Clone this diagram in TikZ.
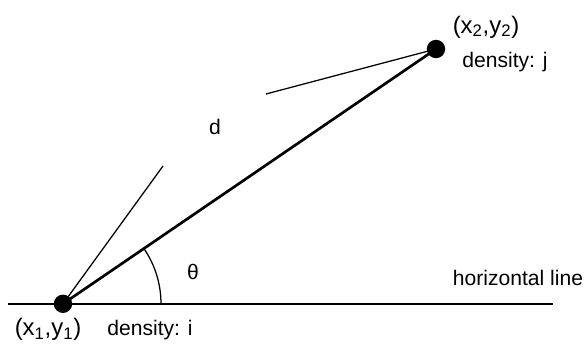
\documentclass[tikz,border=0pt]{standalone}
\usepackage{fontspec}
\setmainfont{Liberation Sans}
\usetikzlibrary{angles, calc}

\begin{document}
\begin{tikzpicture}[
        dot/.style={circle, fill=black, inner sep=0pt, minimum size=0.46cm},
        lbl/.style={font=\fontsize{15}{18}\selectfont},
        pt/.style={font=\fontsize{17}{20}\selectfont}
    ]
                \useasboundingbox (0,0) rectangle (14.625,8.675);

                % Points and horizontal line
                \coordinate (c1) at (1.575,1.08);
                \coordinate (c2) at (10.9,7.45);
                \coordinate (hl) at (0.2,1.075);
                \coordinate (hr) at (13.825,1.075);
                \draw[line width=2pt] (hl) -- (hr);
                \node[dot] (p1) at (c1) {};
                \node[dot] (p2) at (c2) {};

                % Distance line between the two points
                \draw[line width=1.9pt] (c1) -- (c2);

                % Thin lines from each point
                \coordinate (t1) at (4.075,4.525);
                \coordinate (t2) at (6.65,6.325);
                \draw[line width=0.9pt] (c1) -- (t1);
                \draw[line width=0.9pt] (c2) -- (t2);

                % Angle
                \pic[draw, line width=0.9pt, angle radius=2.45cm] {angle = hr--c1--c2};
                \node[lbl] (theta) at (4.825,1.875) {θ};
                \node[lbl] (d) at (5.375,5.5) {d};

                % Labels
                \node[pt] (xy1) at (1.2,0.43) {(x\textsubscript{1},y\textsubscript{1})};
                \node[lbl] (di) at (3.75,0.42) {density: i};
                \node[pt] (xy2) at (12.15,8.0) {(x\textsubscript{2},y\textsubscript{2})};
                \node[lbl] (dj) at (12.625,7.13) {density: j};
                \node[lbl] (hlabel) at (12.95,1.72) {horizontal line};
            \end{tikzpicture}
\end{document}
